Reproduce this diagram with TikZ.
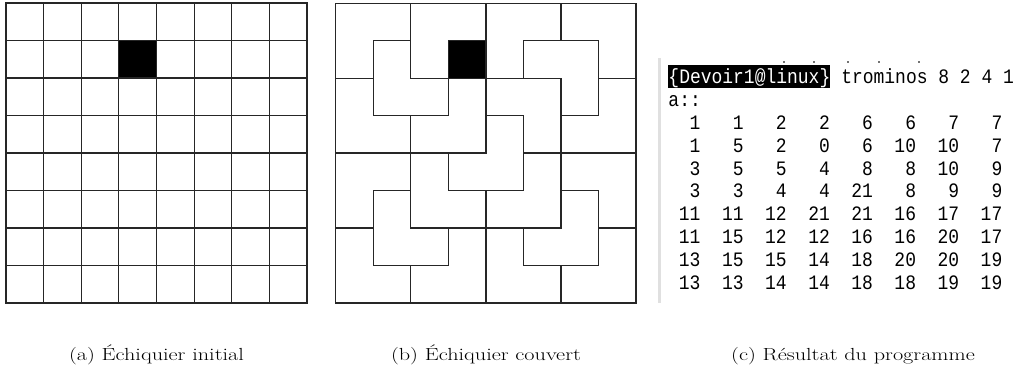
\documentclass[tikz,border=0pt]{standalone}
\usepackage{fontspec}
\setmonofont{Liberation Mono}
\begin{document}
\begin{tikzpicture}[x=1pt,y=-1pt,
  gridline/.style={draw=black!85,line width=1.2pt,line cap=rect},
  tile/.style={draw=black!85,line width=1.3pt,line cap=rect},
  term/.style={font=\fontsize{20.5}{24}\selectfont\ttfamily,inner sep=0pt,text=black,xscale=0.877,transform shape},
  captext/.style={font=\fontsize{17.5}{21}\selectfont,inner sep=0pt,anchor=base,xscale=1.27,transform shape}]
\useasboundingbox (0,0) rectangle (1015,371);
\def\M{{1,1,2,2,6,6,7,7, 1,5,2,0,6,10,10,7, 3,5,5,4,8,8,10,9, 3,3,4,4,21,8,9,9, 11,11,12,21,21,16,17,17, 11,15,12,12,16,16,20,17, 13,15,15,14,18,20,20,19, 13,13,14,14,18,18,19,19}}
% ---------- (a) initial board ----------
\def\ax{6}\def\ay{3}\def\cw{37.625}\def\ch{37.5}
\fill[black] (\ax+3*\cw,\ay+\ch) rectangle ++(\cw,\ch);
\foreach \i in {0,...,8}{
  \draw[gridline] (\ax+\i*\cw,\ay) -- (\ax+\i*\cw,\ay+8*\ch);
  \draw[gridline] (\ax,\ay+\i*\ch) -- (\ax+8*\cw,\ay+\i*\ch);
}
% ---------- (b) covered board ----------
\def\bx{335.7}\def\by{3.3}\def\bw{37.54}\def\bh{37.46}
\fill[black] (\bx+3*\bw,\by+\bh) rectangle ++(\bw,\bh);
\draw[tile] (\bx,\by) rectangle (\bx+8*\bw,\by+8*\bh);
\foreach \r in {0,...,7}{
  \foreach \c in {0,...,6}{
    \pgfmathtruncatemacro\ia{\r*8+\c}
    \pgfmathtruncatemacro\ib{\r*8+\c+1}
    \pgfmathtruncatemacro\va{\M[\ia]}
    \pgfmathtruncatemacro\vb{\M[\ib]}
    \ifnum\va=\vb\relax\else
      \draw[tile] (\bx+\c*\bw+\bw,\by+\r*\bh) -- ++(0,\bh);
    \fi
  }
}
\foreach \r in {0,...,6}{
  \foreach \c in {0,...,7}{
    \pgfmathtruncatemacro\ia{\r*8+\c}
    \pgfmathtruncatemacro\ib{\r*8+\c+8}
    \pgfmathtruncatemacro\va{\M[\ia]}
    \pgfmathtruncatemacro\vb{\M[\ib]}
    \ifnum\va=\vb\relax\else
      \draw[tile] (\bx+\c*\bw,\by+\r*\bh+\bh) -- ++(\bw,0);
    \fi
  }
}
% ---------- (c) program output ----------
\fill[black!12] (658,58) rectangle (661,303);
\foreach \dx in {783,813,847,878,918}{
  \fill[black!55] (\dx,61.5) rectangle ++(2,1.5);
}
\fill[black] (668.3,65) rectangle (830,88);
\node[term,text=white,anchor=base west] (hdr) at (668.3,84) {\{Devoir1@linux\}};
\node[term,anchor=base west] (cmd) at (841.1,84) {trominos 8 2 4 1};
\node[term,anchor=base west] (acol) at (668.3,106.8) {a::};
\foreach \r in {0,...,7}{
  \foreach \c in {0,...,7}{
    \pgfmathtruncatemacro\ia{\r*8+\c}
    \pgfmathtruncatemacro\va{\M[\ia]}
    \node[term,anchor=base east] (n-\r-\c) at (668.3+10.78*3+43.12*\c,129.6+22.8*\r) {\va};
  }
}
% ---------- captions ----------
\node[captext] (capa) at (156.5,360) {(a) Échiquier initial};
\node[captext] (capb) at (486,360) {(b) Échiquier couvert};
\node[captext] (capc) at (853,360) {(c) Résultat du programme};
\end{tikzpicture}
\end{document}
